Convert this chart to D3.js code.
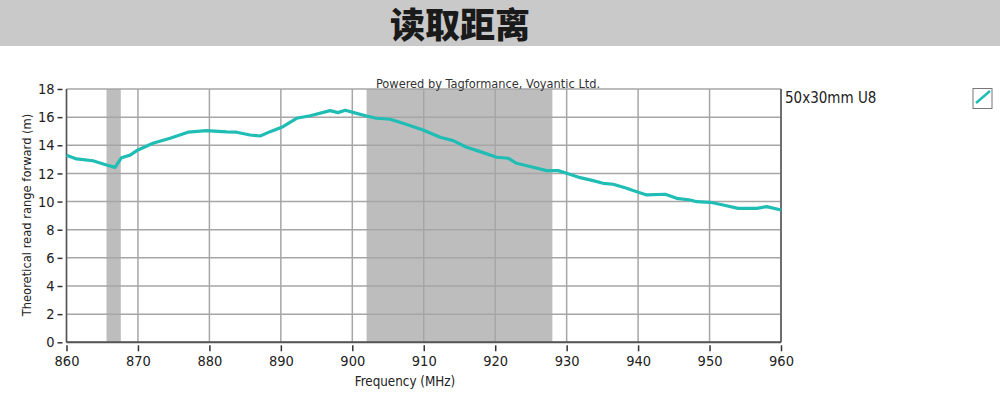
<!DOCTYPE html>
<html lang="zh">
<head>
	<meta charset="UTF-8">
	<title>读取距离</title>
	<style>
		body { margin: 0; background: #fff; }
		svg text { font-family: "DejaVu Sans Condensed", "DejaVu Sans", sans-serif; fill: #222; }
	</style>
</head>
<body>
	<script src="https://d3js.org/d3.v7.min.js"></script>
	<script type="text/javascript">
		// 数据：频率 (MHz) 与读取距离 (m)
		var freq = [860, 861.4, 863.7, 865.6, 866.8, 867.7, 868.9, 870, 872.1, 874.5,
			877, 879.6, 882.4, 883.8, 885.7, 887.1, 888.5, 890.3, 892.2, 894.1,
			896.9, 898, 899, 900.6, 902, 903.4, 905.3, 907.1, 909.9, 912.3,
			914.1, 916, 917.9, 920.2, 921.8, 923, 925.3, 927.2, 928.8, 930,
			931.9, 933.7, 935.1, 936.5, 938.4, 939.3, 941.2, 943.8, 945.4, 947.3,
			948.2, 950.1, 951.9, 954, 956.6, 958, 960];
		var readRange = [13.3, 13.03, 12.9, 12.6, 12.43, 13.12, 13.3, 13.67, 14.15, 14.5,
			14.93, 15.04, 14.95, 14.93, 14.73, 14.66, 14.97, 15.32, 15.92, 16.1,
			16.46, 16.32, 16.49, 16.27, 16.08, 15.92, 15.85, 15.56, 15.09, 14.57,
			14.33, 13.86, 13.55, 13.15, 13.08, 12.72, 12.44, 12.2, 12.2, 12.01,
			11.7, 11.49, 11.3, 11.23, 10.95, 10.78, 10.47, 10.52, 10.23, 10.11,
			9.99, 9.95, 9.76, 9.52, 9.52, 9.64, 9.4];
		// 灰色频段 (EU / US)
		var bands = [[865.6, 867.6], [902, 928]];
		var xTicks = [860, 870, 880, 890, 900, 910, 920, 930, 940, 950, 960];
		var yTicks = [0, 2, 4, 6, 8, 10, 12, 14, 16, 18];
		var seriesName = "50x30mm U8";

		var W = 1000, H = 400;
		var pl = 66.5, pr = 781, pt = 89, pb = 342.3;
		var lineColor = "#20bdb5";

		var svg = d3.select("body").append("svg").attr("width", W).attr("height", H);

		// 标题
		svg.append("rect").attr("x", 0).attr("y", 0).attr("width", W).attr("height", 46).attr("fill", "#c9c9c9");
		svg.append("text").attr("x", 460).attr("y", 38).attr("text-anchor", "middle")
			.style("font-family", "'Noto Sans CJK SC', sans-serif").style("font-weight", 900)
			.style("font-size", "35px").style("fill", "#1a1a1a").text("读取距离");

		var x = d3.scaleLinear().domain([860, 960]).range([pl, pr]);
		var y = d3.scaleLinear().domain([0, 18]).range([pb, pt]);

		// 频段
		svg.selectAll("rect.band").data(bands).enter().append("rect").attr("class", "band")
			.attr("x", function(d){ return x(d[0]); })
			.attr("y", pt)
			.attr("width", function(d){ return x(d[1]) - x(d[0]); })
			.attr("height", pb - pt)
			.attr("fill", "#bdbdbd");

		// 网格
		svg.append("g").selectAll("line").data(xTicks).enter().append("line")
			.attr("x1", function(d){ return x(d); }).attr("x2", function(d){ return x(d); })
			.attr("y1", pt).attr("y2", pb)
			.attr("stroke", "#a6a6a6").attr("stroke-width", 1.5);
		svg.append("g").selectAll("line").data(yTicks).enter().append("line")
			.attr("x1", pl).attr("x2", pr)
			.attr("y1", function(d){ return y(d); }).attr("y2", function(d){ return y(d); })
			.attr("stroke", "#a6a6a6").attr("stroke-width", 1.5);

		// 坐标轴
		var gy = svg.append("g").attr("transform", "translate(" + (pl - 4) + ",0)")
			.call(d3.axisLeft(y).tickValues(yTicks).tickSize(5).tickPadding(3));
		var gx = svg.append("g").attr("transform", "translate(0," + (pb + 3) + ")")
			.call(d3.axisBottom(x).tickValues(xTicks).tickFormat(d3.format("d")).tickSize(6).tickPadding(4));
		[gy, gx].forEach(function(g){
			g.select(".domain").remove();
			g.selectAll(".tick line").attr("stroke", "#333").attr("stroke-width", 1.5);
			g.selectAll(".tick text").style("font-size", "14.5px").style("fill", "#222");
		});

		svg.append("line").attr("x1", pl).attr("x2", pl).attr("y1", pt).attr("y2", pb).attr("stroke", "#555").attr("stroke-width", 1.5);
		svg.append("line").attr("x1", pr).attr("x2", pr).attr("y1", pt).attr("y2", pb).attr("stroke", "#555").attr("stroke-width", 1.5);
		svg.append("line").attr("x1", pl).attr("x2", pr).attr("y1", pb).attr("y2", pb).attr("stroke", "#555").attr("stroke-width", 2);

		// 曲线
		var line = d3.line()
			.x(function(d, i){ return x(freq[i]); })
			.y(function(d){ return y(d); });
		svg.append("path").datum(readRange).attr("d", line)
			.attr("fill", "none").attr("stroke", lineColor).attr("stroke-width", 3.2)
			.attr("stroke-linejoin", "round");

		// 文字
		svg.append("text").attr("x", 488).attr("y", 88).attr("text-anchor", "middle")
			.style("font-size", "12.7px").style("fill", "#333").text("Powered by Tagformance, Voyantic Ltd.");
		svg.append("text").attr("transform", "translate(31,215) rotate(-90)").attr("text-anchor", "middle")
			.style("font-size", "12.8px").text("Theoretical read range forward (m)");
		svg.append("text").attr("x", 405).attr("y", 386).attr("text-anchor", "middle")
			.style("font-size", "13.3px").text("Frequency (MHz)");

		// 图例
		svg.append("text").attr("x", 785).attr("y", 103).style("font-size", "15px").text(seriesName);
		svg.append("rect").attr("x", 973).attr("y", 88.5).attr("width", 19).attr("height", 20)
			.attr("fill", "#fff").attr("stroke", "#777").attr("stroke-width", 1);
		svg.append("line").attr("x1", 976).attr("y1", 103).attr("x2", 990).attr("y2", 91)
			.attr("stroke", lineColor).attr("stroke-width", 2.5);
	</script>
</body>
</html>
